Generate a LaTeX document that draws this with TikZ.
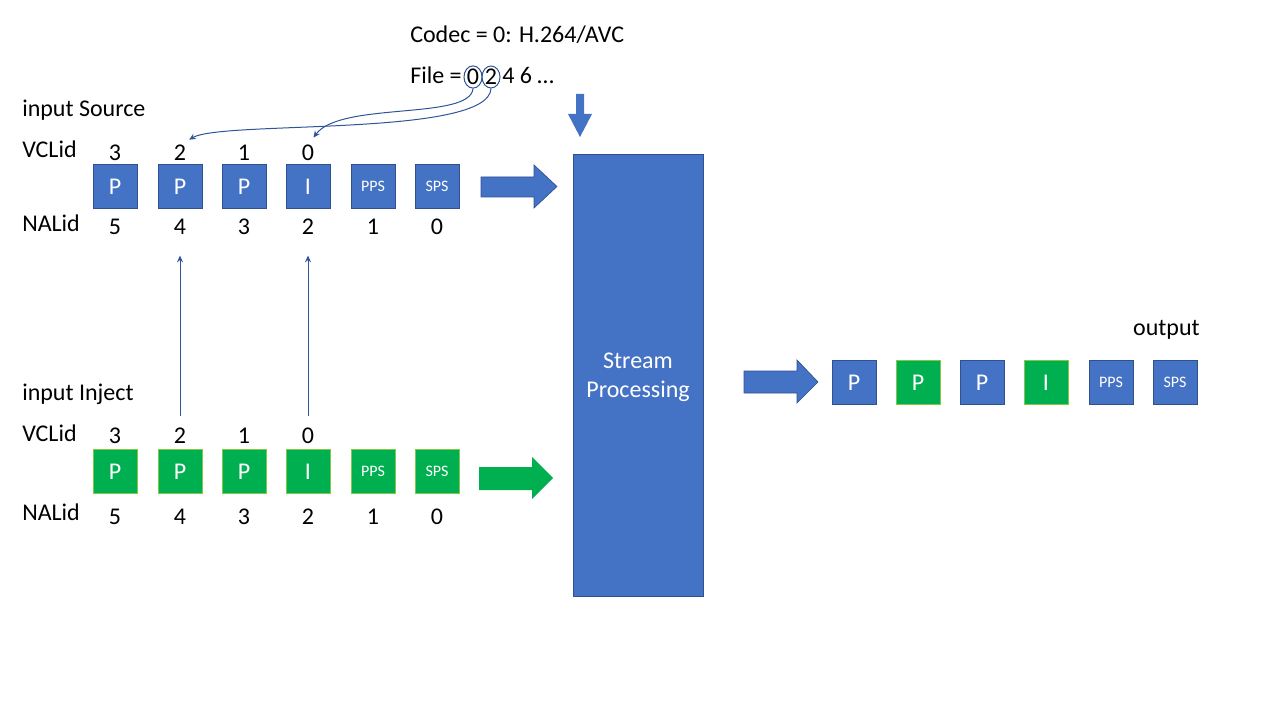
\documentclass[tikz,border=0pt]{standalone}
\usepackage{fontspec}
\setmainfont{Carlito}
\usetikzlibrary{shapes.geometric,arrows.meta}
\definecolor{boxblue}{RGB}{68,114,196}
\definecolor{edgeblue}{RGB}{47,82,143}
\definecolor{boxgreen}{RGB}{0,176,80}
\definecolor{edgegreen}{RGB}{130,200,70}
\definecolor{linkblue}{RGB}{47,85,151}
\tikzset{
  frame/.style={minimum size=33pt,inner sep=0pt,text=white,line width=0.6pt},
  bluebox/.style={frame,fill=boxblue,draw=edgeblue},
  greenbox/.style={frame,fill=boxgreen,draw=edgegreen},
  tiny/.style={font=\fontsize{12}{14}\selectfont},
  lbl/.style={anchor=base west,inner sep=0pt},
  num/.style={anchor=base,inner sep=0pt},
  ring/.style={ellipse,draw=linkblue,line width=0.75pt,inner sep=0pt,minimum width=13.5pt,minimum height=15.75pt},
  link/.style={linkblue,line width=0.75pt,-{Stealth[length=5pt,width=4.5pt]}}
}
\begin{document}
\begin{tikzpicture}[x=0.75pt,y=-0.75pt,font=\fontsize{18}{22}\selectfont]
        \useasboundingbox (0,0) rectangle (1280,720);
        \node[lbl](codec) at (410,42.5) {Codec = 0: H.264/AVC};
        \node[lbl](file) at (410,84) {File =};
        \node[ring](f0) at (473,77) {0};
        \node[ring](f2) at (491,77) {2};
        \node[lbl](frest) at (502,84) {4 6 \ldots};
        % input Source
        \node[lbl](src) at (22,117) {input Source};
        \node[lbl](svc) at (22,158) {VCLid};
        \node[lbl](snal) at (22,232) {NALid};
        \node[num](svc3) at (115,161) {3}; \node[num](svc2) at (180,161) {2};
        \node[num](svc1) at (244,161) {1}; \node[num](svc0) at (308,161) {0};
        \node[bluebox](s5) at (115,186.5) {P}; \node[bluebox](s4) at (180,186.5) {P};
        \node[bluebox](s3) at (244,186.5) {P}; \node[bluebox](s2) at (308,186.5) {I};
        \node[bluebox,tiny](s1) at (373,186.5) {PPS}; \node[bluebox,tiny](s0) at (437,186.5) {SPS};
        \node[num](snal5) at (115,234) {5}; \node[num](snal4) at (180,234) {4};
        \node[num](snal3) at (244,234) {3}; \node[num](snal2) at (308,234) {2};
        \node[num](snal1) at (373,234) {1}; \node[num](snal0) at (437,234) {0};
        % input Inject
        \node[lbl](inj) at (22,400) {input Inject};
        \node[lbl](jvc) at (22,441) {VCLid};
        \node[lbl](jnal) at (22,520) {NALid};
        \node[num](jvc3) at (115,443) {3}; \node[num](jvc2) at (180,443) {2};
        \node[num](jvc1) at (244,443) {1}; \node[num](jvc0) at (308,443) {0};
        \node[greenbox](j5) at (115,471.5) {P}; \node[greenbox](j4) at (180,471.5) {P};
        \node[greenbox](j3) at (244,471.5) {P}; \node[greenbox](j2) at (308,471.5) {I};
        \node[greenbox,tiny](j1) at (373,471.5) {PPS}; \node[greenbox,tiny](j0) at (437,471.5) {SPS};
        \node[num](jnal5) at (115,524) {5}; \node[num](jnal4) at (180,524) {4};
        \node[num](jnal3) at (244,524) {3}; \node[num](jnal2) at (308,524) {2};
        \node[num](jnal1) at (373,524) {1}; \node[num](jnal0) at (437,524) {0};
        % stream processing
        \node[fill=boxblue,draw=edgeblue,line width=0.6pt,minimum width=97.5pt,minimum height=331.5pt,text=white,align=center](proc) at (638,375) {};
        \node[text=white,align=center](proctext) at (638,377) {Stream\\Processing};
        \filldraw[fill=boxblue,draw=edgeblue,line width=0.5pt] (481,177) -- (534,177) -- (534,165) -- (557,186.5) -- (534,208) -- (534,197) -- (481,197) -- cycle;
        \fill[boxgreen] (479,467) -- (532,467) -- (532,457) -- (553,478) -- (532,499) -- (532,490) -- (479,490) -- cycle;
        \fill[boxblue] (576,94) -- (584,94) -- (584,114) -- (592,114) -- (580,137) -- (568,114) -- (576,114) -- cycle;
        \filldraw[fill=boxblue,draw=edgeblue,line width=0.5pt] (744,371) -- (797,371) -- (797,360) -- (818,382) -- (797,403) -- (797,393) -- (744,393) -- cycle;
        % output
        \node[anchor=base east,inner sep=0pt](out) at (1200,335) {output};
        \node[bluebox](o5) at (854,382.5) {P}; \node[greenbox](o4) at (918,382.5) {P};
        \node[bluebox](o3) at (982,382.5) {P}; \node[greenbox](o2) at (1046,382.5) {I};
        \node[bluebox,tiny](o1) at (1111,382.5) {PPS}; \node[bluebox,tiny](o0) at (1175,382.5) {SPS};
        \draw[link,shorten >=7pt] (f0.south)..controls +(-3,32) and +(32,-44)..(svc0.north);
        \draw[link,shorten >=8pt] (f2.south)..controls +(-2,49) and +(42,-25)..(svc2.north);
        \draw[link,shorten <=8pt,shorten >=16pt] (jvc2.north) -- (snal4.south);
        \draw[link,shorten <=8pt,shorten >=16pt] (jvc0.north) -- (snal2.south);
    \end{tikzpicture}
\end{document}
